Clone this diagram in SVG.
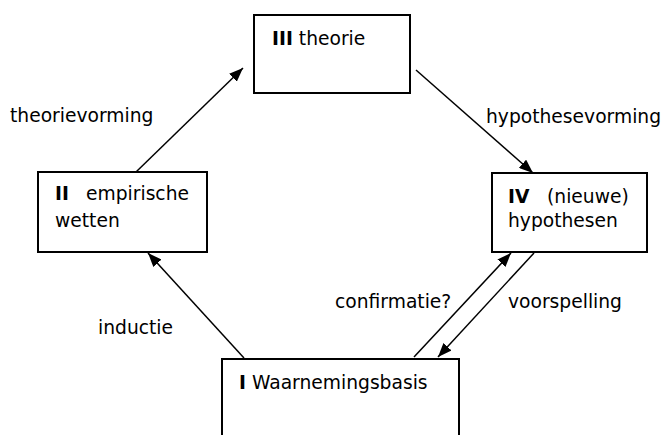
<svg xmlns="http://www.w3.org/2000/svg" width="662" height="435" viewBox="0 0 662 435">
<defs>
<style>
.box{fill:#fff;stroke:#000;stroke-width:2}
.t{font-family:"DejaVu Sans",Verdana,sans-serif;font-size:18.7px;fill:#000}
.b{font-weight:bold}
.c{stroke:#000;stroke-width:1.5;fill:none}
</style>
<marker id="ah" viewBox="0 0 14 11" refX="14" refY="5.5" markerWidth="14" markerHeight="11" markerUnits="userSpaceOnUse" orient="auto">
<path d="M0,0 L14,5.5 L0,11 Z" fill="#000"/>
</marker>
</defs>
<rect width="662" height="435" fill="#fff"/>
<g id="connectors">
<line class="c" x1="136" y1="172" x2="243" y2="68" marker-end="url(#ah)"/>
<line class="c" x1="416" y1="70" x2="533" y2="173" marker-end="url(#ah)"/>
<line class="c" x1="244" y1="358" x2="148" y2="253" marker-end="url(#ah)"/>
<line class="c" x1="414" y1="357" x2="511" y2="253" marker-end="url(#ah)"/>
<line class="c" x1="534" y1="253" x2="438" y2="357" marker-end="url(#ah)"/>
<text class="t" x="10" y="122">theorievorming</text>
<text class="t" x="486" y="123">hypothesevorming</text>
<text class="t" x="98" y="334">inductie</text>
<text class="t" x="335" y="308">confirmatie?</text>
<text class="t" x="508" y="308">voorspelling</text>
</g>
<g id="node-III">
<rect class="box" x="254" y="15" width="156" height="78"/>
<text class="t" x="272" y="45"><tspan class="b">III</tspan> theorie</text>
</g>
<g id="node-II">
<rect class="box" x="38" y="172" width="169" height="80"/>
<text class="t" x="55" y="200"><tspan class="b">II</tspan></text>
<text class="t" x="86" y="200">empirische</text>
<text class="t" x="55" y="227">wetten</text>
</g>
<g id="node-IV">
<rect class="box" x="492" y="173" width="155" height="79"/>
<text class="t" x="508" y="203"><tspan class="b">IV</tspan></text>
<text class="t" x="547" y="203">(nieuwe)</text>
<text class="t" x="508" y="227">hypothesen</text>
</g>
<g id="node-I">
<rect class="box" x="222" y="359" width="237" height="90"/>
<text class="t" x="239" y="389"><tspan class="b">I</tspan> Waarnemingsbasis</text>
</g>
</svg>
